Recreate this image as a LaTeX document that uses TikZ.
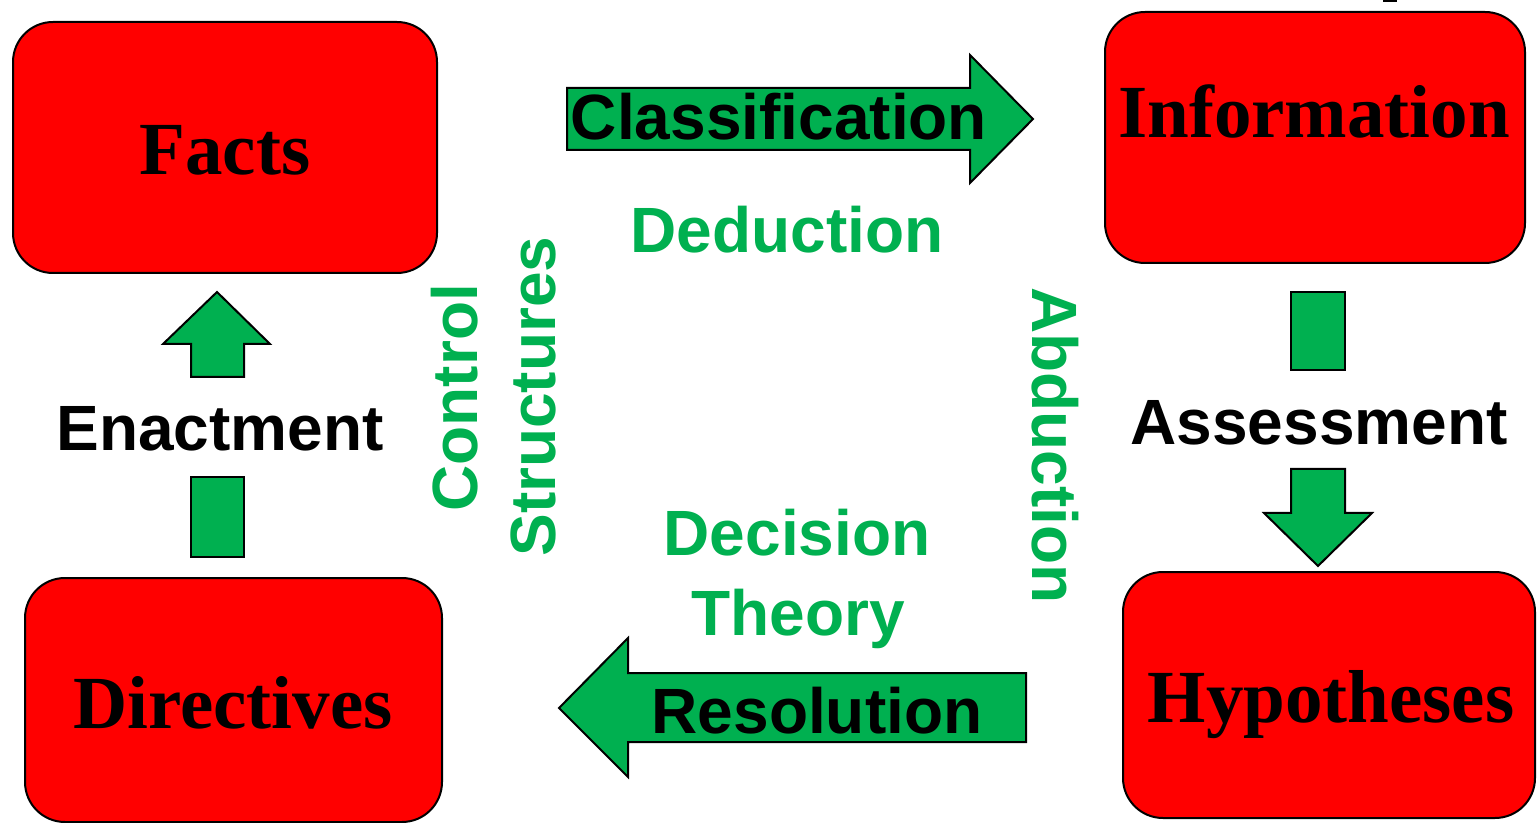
\documentclass[tikz,border=0pt]{standalone}
\usepackage{fontspec}
\setmainfont{Liberation Serif}
\newfontfamily\arialfont{Liberation Sans}
\definecolor{boxred}{RGB}{255,0,0}
\definecolor{arrgreen}{RGB}{0,176,80}
\begin{document}
\begin{tikzpicture}[x=0.5pt,y=-0.5pt,
  redbox/.style={draw=black,line width=1pt,fill=boxred,rounded corners=20pt},
  boxlabel/.style={anchor=base,inner sep=0pt,font=\fontsize{37.5pt}{40pt}\selectfont\bfseries},
  blockarrow/.style={draw=black,line width=1pt,fill=arrgreen,line join=miter},
  blacklabel/.style={anchor=base,inner sep=0pt,font=\fontsize{32pt}{36pt}\selectfont\arialfont\bfseries,text=black},
  greenlabel/.style={anchor=base,inner sep=0pt,font=\fontsize{32pt}{36pt}\selectfont\arialfont\bfseries,text=arrgreen},
  vgreen/.style={anchor=base west,inner sep=0pt,font=\fontsize{32pt}{36pt}\selectfont\arialfont\bfseries,text=arrgreen}]
\useasboundingbox (0,0) rectangle (1537,823);
\fill[white] (0,0) rectangle (1537,823);
\fill[black] (1383,0) rectangle (1397,2);

% boxes
\draw[redbox] (13,22) rectangle (437,273);
\draw[redbox] (1105,12) rectangle (1525,263);
\draw[redbox] (25,578) rectangle (442,822);
\draw[redbox] (1123,572) rectangle (1535,818);
\node[boxlabel] (facts) at (225,175) {Facts};
\node[boxlabel] (information) at (1314,138) {Information};
\node[boxlabel] (directives) at (233,728) {Directives};
\node[boxlabel] (hypotheses) at (1331,722) {Hypotheses};

% classification arrow
\draw[blockarrow] (567,88) -- (970,88) -- (970,55) -- (1033,119) -- (970,183) -- (970,150) -- (567,150) -- cycle;
\node[blacklabel] (classification) at (779,140) {Classification};

% resolution arrow
\draw[blockarrow] (1026,673) -- (628,673) -- (628,638) -- (559,708) -- (628,777) -- (628,742) -- (1026,742) -- cycle;
\node[blacklabel] (resolution) at (817,733) {Resolution};

% enactment arrow
\draw[blockarrow] (191,477) rectangle (244,557);
\draw[blockarrow] (191,377) -- (191,344) -- (163,344) -- (217,292) -- (270,344) -- (244,344) -- (244,377) -- cycle;
\node[blacklabel] (enactment) at (220,451) {Enactment};

% assessment arrow
\draw[blockarrow] (1291,292) rectangle (1345,370);
\draw[blockarrow] (1291,469) -- (1345,469) -- (1345,513) -- (1372,513) -- (1318,566) -- (1264,513) -- (1291,513) -- cycle;
\node[blacklabel] (assessment) at (1319,445) {Assessment};

% green labels
\node[greenlabel] (deduction) at (787,253) {Deduction};
\node[greenlabel] (decision) at (797,555) {Decision};
\node[greenlabel] (theory) at (798,635) {Theory};
\node[vgreen,rotate=90] (control) at (477,512) {Control};
\node[vgreen,rotate=90] (structures) at (555,557) {Structures};
\node[vgreen,rotate=-90] (abduction) at (1032,287) {Abduction};
\end{tikzpicture}
\end{document}
